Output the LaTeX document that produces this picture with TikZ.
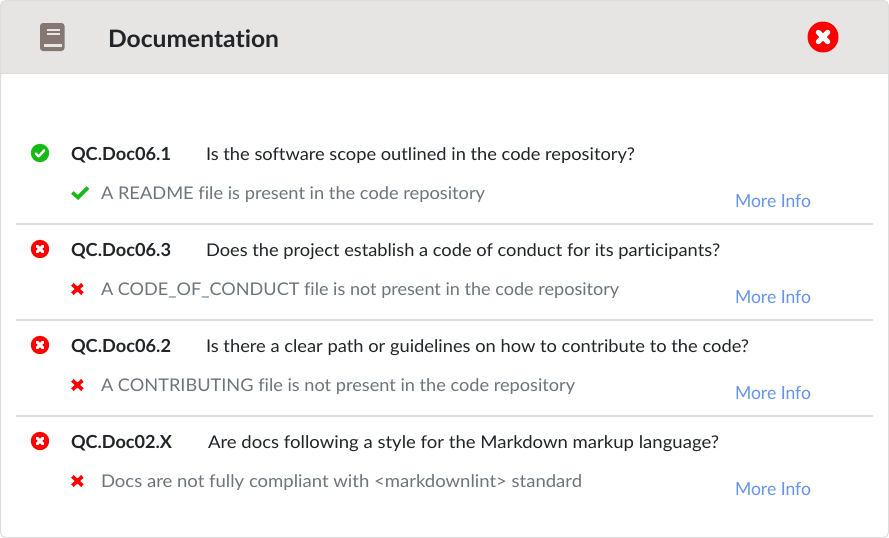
\documentclass[tikz,border=0pt]{standalone}
\usepackage{graphicx}
\usepackage{fontspec}
\setmainfont[Ligatures=NoCommon]{Lato}
\definecolor{hdr}{HTML}{E6E5E3}
\definecolor{edge}{HTML}{DDDDDD}
\definecolor{ink}{HTML}{212529}
\definecolor{muted}{HTML}{6C757D}
\definecolor{linkc}{HTML}{6495ED}
\definecolor{okc}{HTML}{17B917}
\definecolor{badc}{HTML}{FF0000}
\definecolor{bookc}{HTML}{857872}
\newcommand{\fitw}[2]{\resizebox{#1pt}{\height}{#2}}
\tikzset{
  x=1pt,y=-1pt,
  txt/.style={anchor=base west,inner sep=0pt,outer sep=0pt},
  qcid/.style={txt,font=\fontsize{18}{20}\selectfont\bfseries,text=ink},
  question/.style={txt,font=\fontsize{17.5}{20}\selectfont,text=ink},
  detail/.style={txt,font=\fontsize{17.5}{20}\selectfont,text=muted},
  morelink/.style={txt,font=\fontsize{18}{20}\selectfont,text=linkc},
  sep/.style={draw=edge,line width=1.3pt},
  glyphw/.style={draw=white,line cap=round,line join=round},
}
\newcommand{\badbadge}[3]{% x y r
  \fill[badc] (#1,#2) circle (#3);
  \draw[glyphw,line width=#3*0.33pt]
    (#1-#3*0.30,#2-#3*0.30) -- (#1+#3*0.30,#2+#3*0.30)
    (#1-#3*0.30,#2+#3*0.30) -- (#1+#3*0.30,#2-#3*0.30);
}
\newcommand{\smallbad}[1]{% y centre
  \draw[badc,line width=3.6pt] (72.4,#1-4.6) -- (82.4,#1+4.6) (72.4,#1+4.6) -- (82.4,#1-4.6);
}
\begin{document}
\begin{tikzpicture}
\useasboundingbox (0,0) rectangle (889,538);
\fill[white] (0,0) rectangle (889,538);
\begin{scope}
  \clip[rounded corners=5pt] (0.5,0.5) rectangle (888.5,537.5);
  \fill[hdr] (0,0) rectangle (889,73.5);
\end{scope}
\draw[edge] (0,73.5) -- (889,73.5);
\draw[edge,line width=1pt,rounded corners=5pt] (0.5,0.5) rectangle (888.5,537.5);

% book icon
\fill[bookc,rounded corners=3pt] (40,23) rectangle (64.5,51);
\fill[hdr] (43.5,43.5) rectangle (62,47);
\fill[hdr] (46.5,29) rectangle (59.5,30.6);
\fill[hdr] (46.5,33.4) rectangle (59.5,35);

\node[txt,font=\fontsize{24}{26}\selectfont\bfseries,text=ink] (title) at (108,47) {\fitw{171}{Documentation}};
\badbadge{823}{37}{15.5}

% row 1
\fill[okc] (40,153) circle (9.2);
\draw[glyphw,line width=2.3pt] (35.7,153.4) -- (38.7,156.4) -- (44.3,150.2);
\node[qcid] (id1) at (71,160) {\fitw{100}{QC.Doc06.1}};
\node[question] (q1) at (206,160) {\fitw{429}{Is the software scope outlined in the code repository?}};
\draw[okc,line width=3.6pt] (72.4,192.5) -- (78,197.5) -- (88,187.5);
\node[detail] (d1) at (101,199) {\fitw{384}{A README file is present in the code repository}};
\node[morelink] (m1) at (735,207) {\fitw{76}{More Info}};
\draw[sep] (16,224) -- (873,224);

% row 2
\badbadge{40}{249}{9.2}
\node[qcid] (id2) at (71,256) {\fitw{100}{QC.Doc06.3}};
\node[question] (q2) at (206,256) {\fitw{514}{Does the project establish a code of conduct for its participants?}};
\smallbad{289}
\node[detail] (d2) at (101,295) {\fitw{518}{A CODE\_OF\_CONDUCT file is not present in the code repository}};
\node[morelink] (m2) at (735,303) {\fitw{76}{More Info}};
\draw[sep] (16,320) -- (873,320);

% row 3
\badbadge{40}{345}{9.2}
\node[qcid] (id3) at (71,352) {\fitw{100}{QC.Doc06.2}};
\node[question] (q3) at (206,352) {\fitw{543}{Is there a clear path or guidelines on how to contribute to the code?}};
\smallbad{385}
\node[detail] (d3) at (101,391) {\fitw{474}{A CONTRIBUTING file is not present in the code repository}};
\node[morelink] (m3) at (735,399) {\fitw{76}{More Info}};
\draw[sep] (16,416) -- (873,416);

% row 4
\badbadge{40}{441}{9.2}
\node[qcid] (id4) at (71,448) {\fitw{101}{QC.Doc02.X}};
\node[question] (q4) at (208,448) {\fitw{511}{Are docs following a style for the Markdown markup language?}};
\smallbad{481}
\node[detail] (d4) at (101,487) {\fitw{481}{Docs are not fully compliant with <markdownlint> standard}};
\node[morelink] (m4) at (735,495) {\fitw{76}{More Info}};
\end{tikzpicture}
\end{document}
